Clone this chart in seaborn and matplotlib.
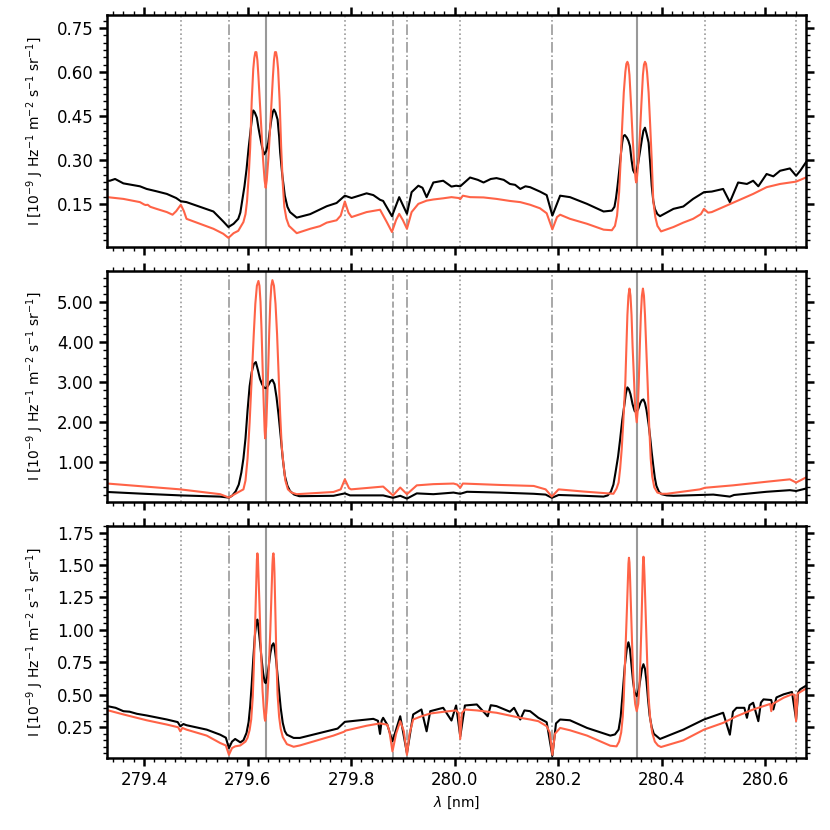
import matplotlib
matplotlib.use("Agg")
import matplotlib.pyplot as plt
from matplotlib.ticker import MultipleLocator, FormatStrFormatter
import seaborn as sns

# (wavelength nm, intensity); obs = black, syn = red

top_obs = [
    (279.329, 0.229), (279.334, 0.229), (279.344, 0.235), (279.360, 0.220), (279.392, 0.210),
    (279.405, 0.201), (279.424, 0.193), (279.444, 0.184), (279.462, 0.170), (279.471, 0.159),
    (279.482, 0.156), (279.508, 0.140), (279.534, 0.124), (279.553, 0.090), (279.563, 0.071),
    (279.573, 0.082), (279.582, 0.099), (279.586, 0.120), (279.590, 0.165), (279.594, 0.210),
    (279.598, 0.268), (279.602, 0.340), (279.606, 0.404), (279.609, 0.450), (279.611, 0.469),
    (279.614, 0.462), (279.618, 0.444), (279.621, 0.410), (279.624, 0.381), (279.628, 0.345),
    (279.632, 0.319), (279.636, 0.330), (279.640, 0.359), (279.643, 0.400), (279.646, 0.438),
    (279.649, 0.465), (279.651, 0.472), (279.654, 0.462), (279.658, 0.438), (279.661, 0.380),
    (279.663, 0.325), (279.667, 0.250), (279.672, 0.178), (279.677, 0.140), (279.682, 0.122),
    (279.695, 0.103), (279.721, 0.115), (279.740, 0.131), (279.753, 0.142), (279.772, 0.153),
    (279.788, 0.178), (279.801, 0.170), (279.830, 0.186), (279.843, 0.180), (279.856, 0.164),
    (279.862, 0.160), (279.879, 0.108), (279.893, 0.173), (279.908, 0.116), (279.917, 0.190),
    (279.930, 0.212), (279.938, 0.205), (279.946, 0.173), (279.959, 0.223), (279.978, 0.229),
    (279.994, 0.209), (280.003, 0.212), (280.011, 0.210), (280.030, 0.240), (280.045, 0.232),
    (280.056, 0.223), (280.070, 0.235), (280.081, 0.238), (280.095, 0.232), (280.107, 0.218),
    (280.117, 0.215), (280.127, 0.201), (280.137, 0.210), (280.146, 0.207), (280.165, 0.192),
    (280.178, 0.180), (280.189, 0.110), (280.204, 0.178), (280.223, 0.173), (280.256, 0.150),
    (280.288, 0.124), (280.304, 0.127), (280.309, 0.140), (280.312, 0.170), (280.315, 0.212),
    (280.318, 0.260), (280.321, 0.314), (280.324, 0.360), (280.326, 0.381), (280.329, 0.385),
    (280.333, 0.376), (280.336, 0.365), (280.339, 0.347), (280.342, 0.300), (280.345, 0.265),
    (280.348, 0.255), (280.351, 0.257), (280.354, 0.280), (280.358, 0.325), (280.362, 0.370),
    (280.365, 0.400), (280.368, 0.410), (280.371, 0.390), (280.375, 0.359), (280.378, 0.290),
    (280.381, 0.212), (280.384, 0.160), (280.387, 0.133), (280.392, 0.115), (280.397, 0.108),
    (280.423, 0.133), (280.442, 0.141), (280.461, 0.167), (280.482, 0.190), (280.497, 0.192),
    (280.519, 0.201), (280.532, 0.156), (280.548, 0.223), (280.565, 0.218), (280.577, 0.229),
    (280.587, 0.210), (280.603, 0.252), (280.616, 0.244), (280.629, 0.263), (280.648, 0.271),
    (280.660, 0.246), (280.668, 0.263), (280.679, 0.292),
]

top_syn = [
    (279.329, 0.173), (279.360, 0.167), (279.392, 0.156), (279.400, 0.148), (279.403, 0.146),
    (279.407, 0.147), (279.412, 0.140), (279.424, 0.133), (279.444, 0.122), (279.455, 0.113),
    (279.462, 0.125), (279.471, 0.147), (279.477, 0.125), (279.482, 0.099), (279.508, 0.082),
    (279.534, 0.065), (279.553, 0.048), (279.563, 0.034), (279.573, 0.050), (279.582, 0.058),
    (279.592, 0.088), (279.596, 0.115), (279.599, 0.160), (279.602, 0.240), (279.605, 0.340),
    (279.608, 0.500), (279.611, 0.610), (279.613, 0.648), (279.615, 0.668), (279.617, 0.668),
    (279.619, 0.640), (279.621, 0.585), (279.624, 0.490), (279.627, 0.390), (279.630, 0.300),
    (279.633, 0.230), (279.635, 0.205), (279.637, 0.230), (279.640, 0.300), (279.643, 0.390),
    (279.646, 0.490), (279.649, 0.585), (279.651, 0.640), (279.653, 0.668), (279.655, 0.668),
    (279.657, 0.648), (279.659, 0.610), (279.662, 0.500), (279.665, 0.340), (279.668, 0.220),
    (279.671, 0.140), (279.675, 0.100), (279.680, 0.075), (279.689, 0.060), (279.695, 0.050),
    (279.721, 0.065), (279.740, 0.074), (279.753, 0.086), (279.772, 0.094), (279.780, 0.110),
    (279.788, 0.158), (279.795, 0.120), (279.801, 0.105), (279.830, 0.122), (279.856, 0.130),
    (279.869, 0.088), (279.879, 0.054), (279.887, 0.095), (279.893, 0.116), (279.900, 0.095),
    (279.908, 0.065), (279.917, 0.122), (279.930, 0.150), (279.946, 0.161), (279.959, 0.165),
    (279.978, 0.169), (279.994, 0.173), (280.008, 0.170), (280.011, 0.166), (280.016, 0.178),
    (280.030, 0.173), (280.056, 0.172), (280.081, 0.167), (280.107, 0.160), (280.127, 0.156),
    (280.146, 0.147), (280.165, 0.135), (280.178, 0.118), (280.189, 0.063), (280.198, 0.105),
    (280.204, 0.113), (280.223, 0.099), (280.256, 0.082), (280.288, 0.062), (280.304, 0.060),
    (280.310, 0.075), (280.314, 0.110), (280.318, 0.190), (280.321, 0.300), (280.324, 0.420),
    (280.327, 0.530), (280.330, 0.600), (280.332, 0.628), (280.334, 0.635), (280.336, 0.625),
    (280.338, 0.590), (280.341, 0.490), (280.344, 0.380), (280.347, 0.290), (280.350, 0.232),
    (280.351, 0.223), (280.352, 0.230), (280.355, 0.290), (280.358, 0.380), (280.361, 0.490),
    (280.364, 0.590), (280.366, 0.625), (280.368, 0.635), (280.370, 0.628), (280.372, 0.600),
    (280.375, 0.530), (280.378, 0.420), (280.381, 0.300), (280.384, 0.160), (280.388, 0.105),
    (280.392, 0.075), (280.399, 0.056), (280.423, 0.071), (280.442, 0.086), (280.461, 0.099),
    (280.476, 0.115), (280.482, 0.133), (280.490, 0.120), (280.497, 0.122), (280.519, 0.139),
    (280.548, 0.161), (280.577, 0.184), (280.603, 0.207), (280.629, 0.218), (280.648, 0.223),
    (280.660, 0.226), (280.679, 0.240),
]

mid_obs = [
    (279.329, 0.265), (279.400, 0.22), (279.470, 0.18), (279.547, 0.15), (279.564, 0.125),
    (279.570, 0.17), (279.577, 0.28), (279.583, 0.45), (279.588, 0.75), (279.592, 1.10),
    (279.596, 1.60), (279.600, 2.30), (279.604, 2.90), (279.608, 3.25), (279.612, 3.45),
    (279.616, 3.50), (279.620, 3.30), (279.624, 3.08), (279.628, 2.95), (279.632, 2.86),
    (279.636, 2.85), (279.640, 2.92), (279.644, 3.02), (279.648, 3.06), (279.652, 2.95),
    (279.656, 2.62), (279.660, 2.17), (279.664, 1.65), (279.668, 1.10), (279.672, 0.67),
    (279.677, 0.42), (279.682, 0.29), (279.690, 0.20), (279.700, 0.16), (279.766, 0.17),
    (279.788, 0.23), (279.798, 0.18), (279.862, 0.18), (279.881, 0.12), (279.895, 0.17),
    (279.908, 0.10), (279.927, 0.23), (279.959, 0.21), (279.998, 0.25), (280.011, 0.22),
    (280.024, 0.27), (280.088, 0.25), (280.153, 0.22), (280.176, 0.20), (280.188, 0.12),
    (280.201, 0.19), (280.250, 0.17), (280.288, 0.15), (280.296, 0.18), (280.302, 0.27),
    (280.307, 0.45), (280.311, 0.75), (280.316, 1.15), (280.320, 1.58), (280.324, 2.05),
    (280.328, 2.42), (280.331, 2.72), (280.334, 2.87), (280.337, 2.82), (280.340, 2.70),
    (280.344, 2.45), (280.348, 2.28), (280.351, 2.25), (280.355, 2.33), (280.359, 2.48),
    (280.362, 2.55), (280.365, 2.57), (280.368, 2.48), (280.371, 2.30), (280.375, 1.95),
    (280.378, 1.62), (280.381, 1.25), (280.384, 0.92), (280.387, 0.62), (280.390, 0.42),
    (280.395, 0.27), (280.400, 0.21), (280.410, 0.18), (280.423, 0.17), (280.474, 0.19),
    (280.500, 0.20), (280.532, 0.15), (280.540, 0.19), (280.603, 0.27), (280.648, 0.31),
    (280.660, 0.29), (280.679, 0.35),
]

mid_syn = [
    (279.329, 0.475), (279.470, 0.33), (279.547, 0.21), (279.564, 0.125), (279.575, 0.21),
    (279.592, 0.33), (279.596, 0.55), (279.600, 1.10), (279.604, 2.00), (279.608, 3.10),
    (279.612, 4.20), (279.615, 4.95), (279.618, 5.40), (279.621, 5.52), (279.623, 5.40),
    (279.625, 5.00), (279.627, 4.30), (279.629, 3.40), (279.631, 2.55), (279.633, 1.80),
    (279.634, 1.60), (279.636, 1.90), (279.638, 2.60), (279.640, 3.40), (279.642, 4.30),
    (279.644, 5.00), (279.646, 5.40), (279.648, 5.54), (279.651, 5.40), (279.654, 4.95),
    (279.657, 4.20), (279.660, 3.20), (279.663, 2.20), (279.666, 1.40), (279.669, 1.00),
    (279.673, 0.55), (279.678, 0.33), (279.685, 0.25), (279.695, 0.21), (279.766, 0.265),
    (279.780, 0.33), (279.788, 0.58), (279.796, 0.36), (279.800, 0.33), (279.862, 0.40),
    (279.881, 0.18), (279.895, 0.375), (279.908, 0.21), (279.927, 0.43), (279.959, 0.46),
    (279.998, 0.475), (280.005, 0.45), (280.011, 0.37), (280.016, 0.475), (280.088, 0.44),
    (280.153, 0.415), (280.176, 0.33), (280.188, 0.15), (280.201, 0.33), (280.250, 0.275),
    (280.307, 0.22), (280.313, 0.35), (280.317, 0.50), (280.320, 0.85), (280.323, 1.33),
    (280.326, 2.00), (280.328, 2.50), (280.330, 3.00), (280.332, 3.85), (280.334, 4.67),
    (280.336, 5.15), (280.338, 5.33), (280.340, 5.15), (280.342, 4.67), (280.344, 3.90),
    (280.347, 3.00), (280.349, 2.35), (280.352, 2.00), (280.354, 2.30), (280.356, 3.00),
    (280.358, 3.90), (280.360, 4.67), (280.362, 5.15), (280.364, 5.33), (280.366, 5.15),
    (280.368, 4.67), (280.370, 4.00), (280.373, 3.00), (280.376, 1.95), (280.379, 1.10),
    (280.382, 0.65), (280.386, 0.38), (280.392, 0.25), (280.400, 0.22), (280.410, 0.22),
    (280.474, 0.33), (280.484, 0.37), (280.538, 0.43), (280.603, 0.52), (280.648, 0.58),
    (280.660, 0.50), (280.679, 0.625),
]

bot_obs = [
    (279.329, 0.413), (279.345, 0.40), (279.360, 0.374), (279.372, 0.37), (279.386, 0.354),
    (279.405, 0.341), (279.444, 0.310), (279.465, 0.29), (279.470, 0.258), (279.476, 0.275),
    (279.482, 0.266), (279.521, 0.232), (279.547, 0.193), (279.558, 0.17), (279.564, 0.09),
    (279.570, 0.14), (279.576, 0.16), (279.586, 0.134), (279.592, 0.15), (279.598, 0.207),
    (279.602, 0.29), (279.605, 0.41), (279.608, 0.58), (279.611, 0.775), (279.614, 0.95),
    (279.617, 1.06), (279.619, 1.08), (279.621, 1.02), (279.624, 0.905), (279.627, 0.78),
    (279.630, 0.67), (279.633, 0.60), (279.635, 0.59), (279.638, 0.64), (279.641, 0.723),
    (279.644, 0.82), (279.647, 0.878), (279.650, 0.897), (279.652, 0.87), (279.655, 0.775),
    (279.658, 0.65), (279.661, 0.517), (279.664, 0.40), (279.668, 0.284), (279.672, 0.22),
    (279.676, 0.193), (279.689, 0.168), (279.701, 0.168), (279.766, 0.232), (279.774, 0.24),
    (279.788, 0.292), (279.830, 0.310), (279.843, 0.315), (279.852, 0.30), (279.856, 0.199),
    (279.859, 0.30), (279.862, 0.323), (279.870, 0.27), (279.880, 0.141), (279.895, 0.335),
    (279.908, 0.050), (279.920, 0.349), (279.936, 0.387), (279.946, 0.219), (279.953, 0.374),
    (279.978, 0.400), (279.994, 0.302), (280.003, 0.418), (280.011, 0.180), (280.020, 0.418),
    (280.043, 0.426), (280.064, 0.335), (280.070, 0.42), (280.081, 0.413), (280.107, 0.37),
    (280.115, 0.40), (280.127, 0.31), (280.135, 0.38), (280.146, 0.374), (280.162, 0.323),
    (280.178, 0.289), (280.189, 0.03), (280.196, 0.28), (280.204, 0.31), (280.223, 0.304),
    (280.256, 0.245), (280.301, 0.186), (280.310, 0.195), (280.317, 0.232), (280.321, 0.33),
    (280.325, 0.52), (280.329, 0.723), (280.333, 0.86), (280.336, 0.905), (280.339, 0.85),
    (280.342, 0.723), (280.345, 0.60), (280.348, 0.52), (280.352, 0.49), (280.356, 0.54),
    (280.359, 0.62), (280.362, 0.70), (280.365, 0.736), (280.368, 0.70), (280.371, 0.60),
    (280.374, 0.46), (280.377, 0.34), (280.381, 0.25), (280.385, 0.20), (280.397, 0.16),
    (280.442, 0.232), (280.482, 0.31), (280.519, 0.362), (280.532, 0.193), (280.538, 0.37),
    (280.545, 0.40), (280.560, 0.40), (280.565, 0.323), (280.570, 0.42), (280.577, 0.439),
    (280.587, 0.297), (280.592, 0.44), (280.597, 0.465), (280.612, 0.46), (280.616, 0.387),
    (280.622, 0.48), (280.636, 0.504), (280.652, 0.522), (280.660, 0.31), (280.664, 0.52),
    (280.668, 0.543), (280.679, 0.57),
]

bot_syn = [
    (279.329, 0.382), (279.360, 0.349), (279.386, 0.323), (279.405, 0.304), (279.444, 0.271),
    (279.466, 0.25), (279.470, 0.219), (279.474, 0.245), (279.482, 0.232), (279.521, 0.186),
    (279.547, 0.129), (279.558, 0.11), (279.564, 0.038), (279.570, 0.09), (279.576, 0.103),
    (279.586, 0.110), (279.596, 0.14), (279.600, 0.17), (279.604, 0.23), (279.607, 0.31),
    (279.610, 0.48), (279.612, 0.70), (279.614, 0.95), (279.616, 1.25), (279.617, 1.42),
    (279.618, 1.54), (279.619, 1.59), (279.620, 1.55), (279.621, 1.44), (279.623, 1.20),
    (279.625, 0.93), (279.627, 0.72), (279.629, 0.53), (279.631, 0.41), (279.633, 0.32),
    (279.634, 0.30), (279.636, 0.36), (279.638, 0.46), (279.640, 0.60), (279.642, 0.79),
    (279.644, 1.00), (279.646, 1.26), (279.648, 1.50), (279.649, 1.57), (279.650, 1.59),
    (279.651, 1.55), (279.652, 1.44), (279.654, 1.10), (279.656, 0.74), (279.658, 0.50),
    (279.661, 0.33), (279.664, 0.24), (279.668, 0.175), (279.676, 0.12), (279.689, 0.10),
    (279.701, 0.11), (279.766, 0.186), (279.786, 0.215), (279.790, 0.225), (279.830, 0.262),
    (279.856, 0.28), (279.870, 0.27), (279.874, 0.22), (279.880, 0.064), (279.887, 0.20),
    (279.895, 0.297), (279.902, 0.22), (279.908, 0.038), (279.913, 0.20), (279.920, 0.31),
    (279.936, 0.335), (279.953, 0.356), (279.978, 0.369), (280.003, 0.38), (280.008, 0.36),
    (280.011, 0.16), (280.014, 0.36), (280.020, 0.387), (280.043, 0.38), (280.081, 0.362),
    (280.127, 0.323), (280.146, 0.31), (280.162, 0.297), (280.178, 0.258), (280.184, 0.21),
    (280.189, 0.038), (280.194, 0.20), (280.204, 0.245), (280.223, 0.227), (280.256, 0.186),
    (280.301, 0.108), (280.313, 0.103), (280.318, 0.14), (280.322, 0.21), (280.325, 0.33),
    (280.327, 0.48), (280.329, 0.70), (280.331, 0.92), (280.333, 1.15), (280.335, 1.40),
    (280.336, 1.51), (280.337, 1.556), (280.338, 1.52), (280.339, 1.42), (280.341, 1.16),
    (280.343, 0.90), (280.345, 0.68), (280.347, 0.52), (280.349, 0.43), (280.352, 0.374),
    (280.355, 0.43), (280.357, 0.55), (280.359, 0.75), (280.361, 1.02), (280.363, 1.33),
    (280.364, 1.50), (280.365, 1.564), (280.366, 1.52), (280.367, 1.42), (280.369, 1.16),
    (280.371, 0.90), (280.373, 0.66), (280.375, 0.48), (280.378, 0.32), (280.382, 0.207),
    (280.387, 0.14), (280.393, 0.11), (280.399, 0.098), (280.442, 0.149), (280.482, 0.232),
    (280.519, 0.284), (280.545, 0.335), (280.577, 0.387), (280.597, 0.413), (280.610, 0.43),
    (280.612, 0.374), (280.615, 0.43), (280.636, 0.478), (280.652, 0.504), (280.657, 0.50),
    (280.660, 0.297), (280.663, 0.51), (280.668, 0.522), (280.679, 0.548),
]

# marked wavelengths
lines_solid = [279.635, 280.353]
lines_dashdot = [279.564, 279.908, 280.188]
lines_dashed = [279.881]
lines_dotted = [279.471, 279.788, 280.011, 280.483, 280.660]

panels = [
    (top_obs, top_syn, (0.004, 0.795), 0.15, 0.025),
    (mid_obs, mid_syn, (0.01, 5.78), 1.0, 0.2),
    (bot_obs, bot_syn, (0.015, 1.80), 0.25, 0.05),
]

fig, axes = plt.subplots(3, 1, figsize=(8.3, 8.3), dpi=100, sharex=True)
fig.subplots_adjust(left=0.129, right=0.971, top=0.982, bottom=0.087, hspace=0.103)

for ax, (obs, syn, ylim, maj, mnr) in zip(axes, panels):
    for x in lines_solid:
        ax.axvline(x, color='gray', lw=1.5, alpha=0.8, zorder=0)
    for x in lines_dashdot:
        ax.axvline(x, color='gray', lw=1.2, ls='-.', alpha=0.8, zorder=0)
    for x in lines_dashed:
        ax.axvline(x, color='gray', lw=1.2, ls='--', alpha=0.8, zorder=0)
    for x in lines_dotted:
        ax.axvline(x, color='gray', lw=1.2, ls=':', alpha=0.8, zorder=0)

    lam_o, val_o = zip(*obs)
    lam_s, val_s = zip(*syn)
    sns.lineplot(x=list(lam_o), y=list(val_o), ax=ax, color='black', lw=1.5,
                 estimator=None, sort=False)
    sns.lineplot(x=list(lam_s), y=list(val_s), ax=ax, color='tomato', lw=1.5,
                 estimator=None, sort=False)

    ax.set_xlim(279.3285, 280.679)
    ax.set_ylim(*ylim)
    ax.xaxis.set_major_locator(MultipleLocator(0.2))
    ax.xaxis.set_minor_locator(MultipleLocator(0.02))
    ax.yaxis.set_major_locator(MultipleLocator(maj))
    ax.yaxis.set_minor_locator(MultipleLocator(mnr))
    ax.yaxis.set_major_formatter(FormatStrFormatter('%.2f'))
    ax.xaxis.set_major_formatter(FormatStrFormatter('%.1f'))
    ax.tick_params(which='both', direction='out', top=True, right=True, labelsize=12)
    ax.tick_params(which='major', length=6, width=1.8)
    ax.tick_params(which='minor', length=3, width=1.0)
    for sp in ax.spines.values():
        sp.set_linewidth(1.8)
    ax.set_ylabel(r'I [10$^{-9}$ J Hz$^{-1}$ m$^{-2}$ s$^{-1}$ sr$^{-1}$]', fontsize=10, labelpad=8)
    ax.set_xlabel('')

axes[-1].set_xlabel(r'$\lambda$ [nm]', fontsize=10)

plt.savefig('out.png', dpi=100)
